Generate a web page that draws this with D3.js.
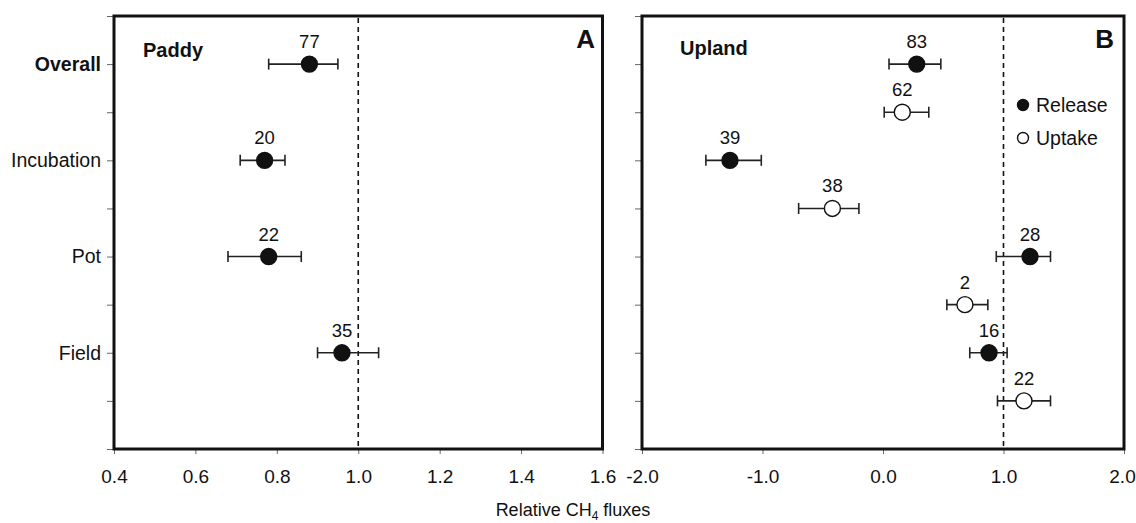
<!DOCTYPE html>
<html>
<head>
<meta charset="utf-8">
<script src="https://cdn.jsdelivr.net/npm/d3@7"></script>
<style>
  body { margin: 0; background: #fff; }
  svg { font-family: "Liberation Sans", Arial, sans-serif; }
</style>
</head>
<body>
<svg id="chart" width="1136" height="523"></svg>
<script>
// paddy panel (A)
let paddyCats = ["Overall", "Incubation", "Pot", "Field"];
let paddyMean = [0.88, 0.77, 0.78, 0.96];
let paddyLow = [0.78, 0.71, 0.68, 0.90];
let paddyHigh = [0.95, 0.82, 0.86, 1.05];
let paddyN = [77, 20, 22, 35];

// upland panel (B), release / uptake rows per category
let uplandCats = ["Overall", "Overall", "Incubation", "Incubation", "Pot", "Pot", "Field", "Field"];
let uplandType = ["Release", "Uptake", "Release", "Uptake", "Release", "Uptake", "Release", "Uptake"];
let uplandMean = [0.28, 0.16, -1.27, -0.42, 1.22, 0.68, 0.88, 1.17];
let uplandLow = [0.05, 0.01, -1.47, -0.70, 0.94, 0.53, 0.72, 0.95];
let uplandHigh = [0.48, 0.38, -1.01, -0.20, 1.39, 0.87, 1.03, 1.39];
let uplandN = [83, 62, 39, 38, 28, 2, 16, 22];

let xTicksA = [0.4, 0.6, 0.8, 1.0, 1.2, 1.4, 1.6];
let xTicksB = [-2.0, -1.0, 0.0, 1.0, 2.0];
let legendItems = ["Release", "Uptake"];

let svg = d3.select("#chart");
let plotTop = 16, plotBottom = 449;
let ink = "#111";

// slot 0 = bottom, slot 9 = top; each row one slot
let y = d3.scaleLinear().domain([0, 9]).range([plotBottom, plotTop]);
let slotTicks = d3.range(0, 10);

let xA = d3.scaleLinear().domain([0.4, 1.6]).range([114, 602.5]);
let xB = d3.scaleLinear().domain([-2, 2]).range([642, 1124]);

// plain hyphen for negatives, like the original
let fmt = d => d.toFixed(1);

function panel(x, ticks, labels) {
    let g = svg.append("g");

    // y ticks (outward, grey)
    let yAxis = d3.axisLeft(y).tickValues(slotTicks).tickSize(7)
        .tickFormat(d => labels[d] || "");
    let ya = g.append("g").attr("transform", "translate(" + x.range()[0] + ",0)").call(yAxis);
    ya.select(".domain").remove();
    ya.selectAll(".tick line").attr("stroke", "#666").attr("stroke-width", 1);
    ya.selectAll(".tick text")
        .attr("x", -13)
        .attr("fill", ink)
        .style("font-size", "19.5px")
        .style("font-weight", d => d == 8 ? "bold" : "normal");

    // x axis
    let xAxis = d3.axisBottom(x).tickValues(ticks).tickSize(5).tickFormat(fmt);
    let xa = g.append("g").attr("transform", "translate(0," + plotBottom + ")").call(xAxis);
    xa.select(".domain").remove();
    xa.selectAll(".tick line").attr("stroke", "#666").attr("stroke-width", 1);
    xa.selectAll(".tick text")
        .attr("y", 21)
        .attr("fill", ink)
        .style("font-size", "19px");

    // reference line at 1.0
    g.append("line")
        .attr("x1", x(1)).attr("x2", x(1))
        .attr("y1", plotTop + 2).attr("y2", plotBottom)
        .attr("stroke", ink).attr("stroke-width", 1.6)
        .attr("stroke-dasharray", "5,4");

    // frame
    g.append("rect")
        .attr("x", x.range()[0]).attr("y", plotTop)
        .attr("width", x.range()[1] - x.range()[0])
        .attr("height", plotBottom - plotTop)
        .attr("fill", "none").attr("stroke", ink).attr("stroke-width", 3);

    return xa;
}

function points(g, x, mean, low, high, n, slot, hollow) {
    let idx = d3.range(mean.length);
    let cap = 5.5;
    let bars = g.append("g").attr("stroke", "#222").attr("stroke-width", 1.6);
    idx.forEach(i => {
        let yy = y(slot[i]);
        bars.append("line").attr("x1", x(low[i])).attr("x2", x(high[i])).attr("y1", yy).attr("y2", yy);
        bars.append("line").attr("x1", x(low[i])).attr("x2", x(low[i])).attr("y1", yy - cap).attr("y2", yy + cap);
        bars.append("line").attr("x1", x(high[i])).attr("x2", x(high[i])).attr("y1", yy - cap).attr("y2", yy + cap);
    });
    g.selectAll(null).data(idx).enter().append("circle")
        .attr("cx", i => x(mean[i]))
        .attr("cy", i => y(slot[i]))
        .attr("r", 8)
        .attr("fill", i => hollow[i] ? "#fff" : ink)
        .attr("stroke", ink).attr("stroke-width", 1.4);
    g.selectAll(null).data(idx).enter().append("text")
        .attr("x", i => x(mean[i]))
        .attr("y", i => y(slot[i]) - 16)
        .attr("text-anchor", "middle")
        .attr("fill", ink)
        .style("font-size", "18.5px")
        .text(i => n[i]);
}

// Panel A
let labelsA = {};
paddyCats.forEach((c, i) => labelsA[8 - 2 * i] = c);
panel(xA, xTicksA, labelsA);
let gA = svg.append("g");
points(gA, xA, paddyMean, paddyLow, paddyHigh, paddyN,
    paddyCats.map((c, i) => 8 - 2 * i), paddyCats.map(() => false));

// Panel B
let xaB = panel(xB, xTicksB, {});
xaB.selectAll(".tick text").filter(d => d == 2).attr("dx", -2);
let gB = svg.append("g");
points(gB, xB, uplandMean, uplandLow, uplandHigh, uplandN,
    uplandCats.map((c, i) => 8 - i), uplandType.map(t => t == "Uptake"));

// panel titles
svg.append("text").attr("x", 143).attr("y", 57).attr("fill", ink)
    .style("font-size", "20px").style("font-weight", "bold").text("Paddy");
svg.append("text").attr("x", 680).attr("y", 55).attr("fill", ink)
    .style("font-size", "20px").style("font-weight", "bold").text("Upland");
svg.append("text").attr("x", 595).attr("y", 48).attr("text-anchor", "end").attr("fill", ink)
    .style("font-size", "26px").style("font-weight", "bold").text("A");
svg.append("text").attr("x", 1114).attr("y", 48).attr("text-anchor", "end").attr("fill", ink)
    .style("font-size", "26px").style("font-weight", "bold").text("B");

// legend
let leg = svg.append("g").attr("transform", "translate(1023,105)");
legendItems.forEach((name, i) => {
    leg.append("circle").attr("cx", 0).attr("cy", i * 33).attr("r", 5.5)
        .attr("fill", name == "Uptake" ? "#fff" : ink)
        .attr("stroke", ink).attr("stroke-width", 1.4);
    leg.append("text").attr("x", 13).attr("y", i * 33 + 7).attr("fill", ink)
        .style("font-size", "19.5px").text(name);
});

// x title
let xt = svg.append("text").attr("x", 573).attr("y", 516).attr("text-anchor", "middle")
    .attr("fill", ink).style("font-size", "18px");
xt.append("tspan").text("Relative CH");
xt.append("tspan").attr("dy", 4).style("font-size", "12px").text("4");
xt.append("tspan").attr("dy", -4).text(" fluxes");
</script>
</body>
</html>
